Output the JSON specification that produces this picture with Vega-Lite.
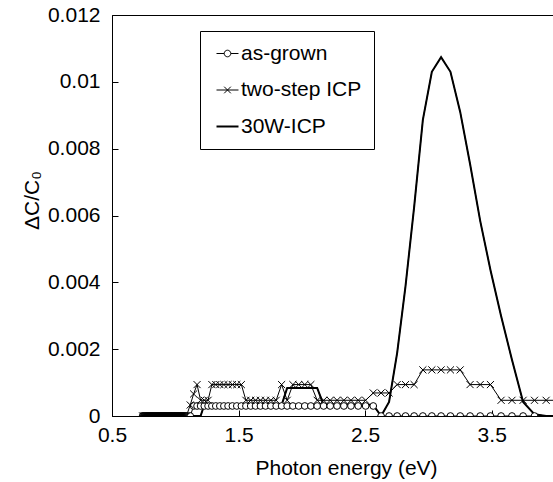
{
  "$schema": "https://vega.github.io/schema/vega-lite/v6.json",
  "autosize": "none",
  "padding": {"left": 112, "top": 15, "right": 0, "bottom": 66},
  "width": 443,
  "height": 401,
  "background": "white",
  "config": {
    "font": "Liberation Sans",
    "view": {"stroke": "black", "strokeWidth": 1},
    "axis": {"grid": false, "domainColor": "black", "tickColor": "black", "labelColor": "black", "titleColor": "black", "labelFont": "Liberation Sans", "titleFont": "Liberation Sans", "labelFontSize": 21, "titleFontSize": 21, "titleFontWeight": "normal"}
  },
  "data": {"values": [
    {"E": 0.742, "as-grown": 0, "two-step ICP": 0, "30W-ICP": 0},
    {"E": 0.750, "as-grown": 0, "two-step ICP": 0, "30W-ICP": 0},
    {"E": 0.758, "as-grown": 0, "two-step ICP": 0, "30W-ICP": 0},
    {"E": 0.766, "as-grown": 0, "two-step ICP": 0, "30W-ICP": 0},
    {"E": 0.774, "as-grown": 0, "two-step ICP": 0, "30W-ICP": 0},
    {"E": 0.782, "as-grown": 0, "two-step ICP": 0, "30W-ICP": 0},
    {"E": 0.790, "as-grown": 0, "two-step ICP": 0, "30W-ICP": 0},
    {"E": 0.798, "as-grown": 0, "two-step ICP": 0, "30W-ICP": 0},
    {"E": 0.806, "as-grown": 0, "two-step ICP": 0, "30W-ICP": 0},
    {"E": 0.814, "as-grown": 0, "two-step ICP": 0, "30W-ICP": 0},
    {"E": 0.822, "as-grown": 0, "two-step ICP": 0, "30W-ICP": 0},
    {"E": 0.830, "as-grown": 0, "two-step ICP": 0, "30W-ICP": 0},
    {"E": 0.838, "as-grown": 0, "two-step ICP": 0, "30W-ICP": 0},
    {"E": 0.846, "as-grown": 0, "two-step ICP": 0, "30W-ICP": 0},
    {"E": 0.854, "as-grown": 0, "two-step ICP": 0, "30W-ICP": 0},
    {"E": 0.862, "as-grown": 0, "two-step ICP": 0, "30W-ICP": 0},
    {"E": 0.870, "as-grown": 0, "two-step ICP": 0, "30W-ICP": 0},
    {"E": 0.878, "as-grown": 0, "two-step ICP": 0, "30W-ICP": 0},
    {"E": 0.886, "as-grown": 0, "two-step ICP": 0, "30W-ICP": 0},
    {"E": 0.894, "as-grown": 0, "two-step ICP": 0, "30W-ICP": 0},
    {"E": 0.902, "as-grown": 0, "two-step ICP": 0, "30W-ICP": 0},
    {"E": 0.910, "as-grown": 0, "two-step ICP": 0, "30W-ICP": 0},
    {"E": 0.918, "as-grown": 0, "two-step ICP": 0, "30W-ICP": 0},
    {"E": 0.926, "as-grown": 0, "two-step ICP": 0, "30W-ICP": 0},
    {"E": 0.934, "as-grown": 0, "two-step ICP": 0, "30W-ICP": 0},
    {"E": 0.942, "as-grown": 0, "two-step ICP": 0, "30W-ICP": 0},
    {"E": 0.950, "as-grown": 0, "two-step ICP": 0, "30W-ICP": 0},
    {"E": 0.958, "as-grown": 0, "two-step ICP": 0, "30W-ICP": 0},
    {"E": 0.966, "as-grown": 0, "two-step ICP": 0, "30W-ICP": 0},
    {"E": 0.974, "as-grown": 0, "two-step ICP": 0, "30W-ICP": 0},
    {"E": 0.982, "as-grown": 0, "two-step ICP": 0, "30W-ICP": 0},
    {"E": 0.990, "as-grown": 0, "two-step ICP": 0, "30W-ICP": 0},
    {"E": 0.998, "as-grown": 0, "two-step ICP": 0, "30W-ICP": 0},
    {"E": 1.006, "as-grown": 0, "two-step ICP": 0, "30W-ICP": 0},
    {"E": 1.014, "as-grown": 0, "two-step ICP": 0, "30W-ICP": 0},
    {"E": 1.022, "as-grown": 0, "two-step ICP": 0, "30W-ICP": 0},
    {"E": 1.030, "as-grown": 0, "two-step ICP": 0, "30W-ICP": 0},
    {"E": 1.038, "as-grown": 0, "two-step ICP": 0, "30W-ICP": 0},
    {"E": 1.046, "as-grown": 0, "two-step ICP": 0, "30W-ICP": 0},
    {"E": 1.054, "as-grown": 0, "two-step ICP": 0, "30W-ICP": 0},
    {"E": 1.062, "as-grown": 0, "two-step ICP": 0, "30W-ICP": 0},
    {"E": 1.070, "as-grown": 0, "two-step ICP": 0, "30W-ICP": 0},
    {"E": 1.078, "as-grown": 0, "two-step ICP": 0, "30W-ICP": 0},
    {"E": 1.088, "as-grown": 0, "two-step ICP": 0, "30W-ICP": 0},
    {"E": 1.118, "as-grown": 0, "two-step ICP": 0.00033, "30W-ICP": 0},
    {"E": 1.145, "as-grown": 0.0003, "two-step ICP": 0.00066, "30W-ICP": 0},
    {"E": 1.172, "as-grown": 0.0003, "two-step ICP": 0.00094, "30W-ICP": 0},
    {"E": 1.200, "as-grown": 0.0003, "two-step ICP": 0.00047, "30W-ICP": 0},
    {"E": 1.229, "as-grown": 0.0003, "two-step ICP": 0.00047, "30W-ICP": 0.00033},
    {"E": 1.259, "as-grown": 0.0003, "two-step ICP": 0.00047, "30W-ICP": 0.00033},
    {"E": 1.289, "as-grown": 0.0003, "two-step ICP": 0.00094, "30W-ICP": 0.00033},
    {"E": 1.320, "as-grown": 0.0003, "two-step ICP": 0.00094, "30W-ICP": 0.00033},
    {"E": 1.352, "as-grown": 0.0003, "two-step ICP": 0.00094, "30W-ICP": 0.00033},
    {"E": 1.384, "as-grown": 0.0003, "two-step ICP": 0.00094, "30W-ICP": 0.00033},
    {"E": 1.417, "as-grown": 0.0003, "two-step ICP": 0.00094, "30W-ICP": 0.00033},
    {"E": 1.451, "as-grown": 0.0003, "two-step ICP": 0.00094, "30W-ICP": 0.00033},
    {"E": 1.486, "as-grown": 0.0003, "two-step ICP": 0.00094, "30W-ICP": 0.00033},
    {"E": 1.522, "as-grown": 0.0003, "two-step ICP": 0.00094, "30W-ICP": 0.00033},
    {"E": 1.558, "as-grown": 0.0003, "two-step ICP": 0.00047, "30W-ICP": 0.00033},
    {"E": 1.596, "as-grown": 0.0003, "two-step ICP": 0.00047, "30W-ICP": 0.00033},
    {"E": 1.634, "as-grown": 0.0003, "two-step ICP": 0.00047, "30W-ICP": 0.00033},
    {"E": 1.673, "as-grown": 0.0003, "two-step ICP": 0.00047, "30W-ICP": 0.00033},
    {"E": 1.713, "as-grown": 0.0003, "two-step ICP": 0.00047, "30W-ICP": 0.00033},
    {"E": 1.755, "as-grown": 0.0003, "two-step ICP": 0.00047, "30W-ICP": 0.00033},
    {"E": 1.797, "as-grown": 0.0003, "two-step ICP": 0.00047, "30W-ICP": 0.00033},
    {"E": 1.840, "as-grown": 0.0003, "two-step ICP": 0.00094, "30W-ICP": 0.00033},
    {"E": 1.884, "as-grown": 0.0003, "two-step ICP": 0.00047, "30W-ICP": 0.00084},
    {"E": 1.929, "as-grown": 0.0003, "two-step ICP": 0.00094, "30W-ICP": 0.00084},
    {"E": 1.975, "as-grown": 0.0003, "two-step ICP": 0.00094, "30W-ICP": 0.00084},
    {"E": 2.023, "as-grown": 0.0003, "two-step ICP": 0.00094, "30W-ICP": 0.00084},
    {"E": 2.071, "as-grown": 0.0003, "two-step ICP": 0.00094, "30W-ICP": 0.00084},
    {"E": 2.121, "as-grown": 0.0003, "two-step ICP": 0.00047, "30W-ICP": 0.00084},
    {"E": 2.172, "as-grown": 0.0003, "two-step ICP": 0.00047, "30W-ICP": 0.00033},
    {"E": 2.224, "as-grown": 0.0003, "two-step ICP": 0.00047, "30W-ICP": 0.00033},
    {"E": 2.278, "as-grown": 0.0003, "two-step ICP": 0.00047, "30W-ICP": 0.00033},
    {"E": 2.332, "as-grown": 0.0003, "two-step ICP": 0.00047, "30W-ICP": 0.00033},
    {"E": 2.388, "as-grown": 0.0003, "two-step ICP": 0.00047, "30W-ICP": 0.00033},
    {"E": 2.445, "as-grown": 0.0003, "two-step ICP": 0.00047, "30W-ICP": 0.00033},
    {"E": 2.504, "as-grown": 0.0003, "two-step ICP": 0.00047, "30W-ICP": 0.00033},
    {"E": 2.564, "as-grown": 0.0003, "two-step ICP": 0.00069, "30W-ICP": 0.00033},
    {"E": 2.626, "as-grown": 0, "two-step ICP": 0.00069, "30W-ICP": 0},
    {"E": 2.689, "as-grown": 0, "two-step ICP": 0.00069, "30W-ICP": 0.00042},
    {"E": 2.753, "as-grown": 0, "two-step ICP": 0.00094, "30W-ICP": 0.00189},
    {"E": 2.819, "as-grown": 0, "two-step ICP": 0.00094, "30W-ICP": 0.00389},
    {"E": 2.887, "as-grown": 0, "two-step ICP": 0.00094, "30W-ICP": 0.00625},
    {"E": 2.956, "as-grown": 0, "two-step ICP": 0.00138, "30W-ICP": 0.00886},
    {"E": 3.027, "as-grown": 0, "two-step ICP": 0.00138, "30W-ICP": 0.0103},
    {"E": 3.100, "as-grown": 0, "two-step ICP": 0.00138, "30W-ICP": 0.01074},
    {"E": 3.174, "as-grown": 0, "two-step ICP": 0.00138, "30W-ICP": 0.0103},
    {"E": 3.251, "as-grown": 0, "two-step ICP": 0.00138, "30W-ICP": 0.0091},
    {"E": 3.329, "as-grown": 0, "two-step ICP": 0.00094, "30W-ICP": 0.00754},
    {"E": 3.409, "as-grown": 0, "two-step ICP": 0.00094, "30W-ICP": 0.00584},
    {"E": 3.490, "as-grown": 0, "two-step ICP": 0.00094, "30W-ICP": 0.00437},
    {"E": 3.574, "as-grown": 0, "two-step ICP": 0.00047, "30W-ICP": 0.00299},
    {"E": 3.660, "as-grown": 0, "two-step ICP": 0.00047, "30W-ICP": 0.00168},
    {"E": 3.748, "as-grown": 0, "two-step ICP": 0.00047, "30W-ICP": 0.00042},
    {"E": 3.838, "as-grown": 0, "two-step ICP": 0.00047, "30W-ICP": 0.00005},
    {"E": 3.930, "two-step ICP": 0.00047, "30W-ICP": 0},
    {"E": 4.024, "two-step ICP": 0.00047, "30W-ICP": 0}
  ]},
  "transform": [
    {"fold": ["as-grown", "two-step ICP", "30W-ICP"], "as": ["series", "value"]}
  ],
  "encoding": {
    "x": {"field": "E", "type": "quantitative",
      "scale": {"domain": [0.5, 4.0], "nice": false, "zero": false},
      "axis": {"title": "Photon energy (eV)", "values": [0.5, 1.5, 2.5, 3.5], "format": ".1f", "tickSize": -6, "labelPadding": 14, "labelFlush": false, "titleX": 234, "titleY": 58, "titleBaseline": "alphabetic"}},
    "y": {"field": "value", "type": "quantitative",
      "scale": {"domain": [0, 0.012], "nice": false},
      "axis": {"title": "ΔC/C₀", "values": [0, 0.002, 0.004, 0.006, 0.008, 0.01, 0.012], "format": ".3~f", "tickSize": -6, "labelPadding": 18, "labelFlush": false, "titleX": -74, "titleY": 185, "titleAlign": "center", "titleBaseline": "alphabetic", "titleAngle": -90}}
  },
  "layer": [
    {
      "mark": {"type": "line", "clip": true, "strokeWidth": 1},
      "encoding": {
        "color": {"field": "series", "type": "nominal",
          "scale": {"domain": ["as-grown", "two-step ICP", "30W-ICP"], "range": ["black", "black", "black"]},
          "legend": {
            "title": null, "orient": "none", "legendX": 88, "legendY": 16,
            "strokeColor": "black", "fillColor": "white", "padding": 12,
            "labelFont": "Liberation Sans", "labelFontSize": 21, "labelColor": "black",
            "symbolSize": 215, "symbolOffset": 5, "labelOffset": 3, "rowPadding": 14.5,
            "encode": {"symbols": {"update": {
              "shape": {"signal": "datum.value === 'as-grown' ? 'M-1.5,0L-0.45,0M0.45,0L1.5,0M-0.45,0A0.45,0.45,0,1,1,0.45,0A0.45,0.45,0,1,1,-0.45,0' : datum.value === 'two-step ICP' ? 'M-1.5,0L1.5,0M-0.45,-0.45L0.45,0.45M-0.45,0.45L0.45,-0.45' : 'M-1.5,0L1.5,0'"},
              "fill": {"value": "white"},
              "stroke": {"value": "black"},
              "strokeWidth": {"signal": "datum.value === '30W-ICP' ? 2 : 1"}
            }}}
          }}
      }
    },
    {
      "transform": [{"filter": "datum.series === '30W-ICP'"}],
      "mark": {"type": "line", "clip": true, "strokeWidth": 2, "color": "black"},
      "encoding": {}
    },
    {
      "transform": [{"filter": "datum.series === 'as-grown'"}],
      "mark": {"type": "point", "shape": "circle", "filled": true, "fill": "white", "stroke": "black", "strokeWidth": 1, "size": 45, "opacity": 1, "clip": true},
      "encoding": {}
    },
    {
      "transform": [{"filter": "datum.series === 'two-step ICP'"}],
      "mark": {"type": "point", "shape": "M-1,-1L1,1M-1,1L1,-1", "filled": false, "stroke": "black", "strokeWidth": 1, "size": 50, "opacity": 1, "clip": true},
      "encoding": {}
    }
  ]
}
